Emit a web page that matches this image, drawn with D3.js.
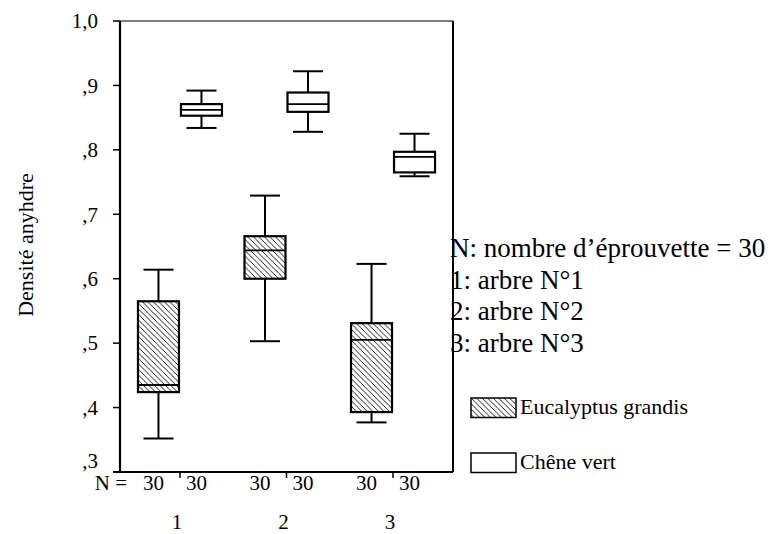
<!DOCTYPE html>
<html>
<head>
<meta charset="utf-8">
<script src="https://cdn.jsdelivr.net/npm/d3@7"></script>
<style>
  body { margin: 0; background: #fff; }
  text { font-family: "Liberation Serif", "Times New Roman", serif; fill: #000; }
</style>
</head>
<body>
<svg id="chart" width="771" height="534"></svg>
<script>
// data
const categories = ["1", "2", "3"];
const series = ["Eucalyptus grandis", "Chêne vert"];
const counts = [[30, 30], [30, 30], [30, 30]];

const eucMin = [0.352, 0.503, 0.377];
const eucQ1 = [0.424, 0.600, 0.393];
const eucMed = [0.435, 0.644, 0.505];
const eucQ3 = [0.565, 0.666, 0.531];
const eucMax = [0.614, 0.729, 0.623];

const cheneMin = [0.834, 0.828, 0.759];
const cheneQ1 = [0.853, 0.859, 0.765];
const cheneMed = [0.862, 0.871, 0.789];
const cheneQ3 = [0.871, 0.889, 0.797];
const cheneMax = [0.892, 0.922, 0.825];

const yTicks = [1.0, 0.9, 0.8, 0.7, 0.6, 0.5, 0.4, 0.3];
const yTickLabels = ["1,0", ",9", ",8", ",7", ",6", ",5", ",4", ",3"];
const notes = ["N: nombre d\u2019éprouvette = 30", "1: arbre N°1", "2: arbre N°2", "3: arbre N°3"];

const boxes = [];
categories.forEach((c, i) => {
  boxes.push({ cat: c, s: series[0], n: counts[i][0], min: eucMin[i], q1: eucQ1[i], med: eucMed[i], q3: eucQ3[i], max: eucMax[i] });
  boxes.push({ cat: c, s: series[1], n: counts[i][1], min: cheneMin[i], q1: cheneQ1[i], med: cheneMed[i], q3: cheneQ3[i], max: cheneMax[i] });
});

const svg = d3.select("#chart");
const plotL = 120, plotR = 453, plotT = 21, plotB = 472;

const y = d3.scaleLinear().domain([0.3, 1.0]).range([plotB, plotT]);
const x = d3.scaleBand().domain(categories).range([plotL, plotR]).paddingInner(0).paddingOuter(0.063);
const xs = d3.scaleBand().domain(series).range([-43, 43]);

// hatch pattern
const defs = svg.append("defs");
const pat = defs.append("pattern")
  .attr("id", "hatch")
  .attr("patternUnits", "userSpaceOnUse")
  .attr("width", 5.5)
  .attr("height", 5.5);
pat.append("rect").attr("width", 5.5).attr("height", 5.5).attr("fill", "#fff");
pat.append("path")
  .attr("d", "M0,0L5.5,5.5M-1,4.5L1,6.5M4.5,-1L6.5,1")
  .attr("stroke", "#000")
  .attr("stroke-width", 0.9);

const fillFor = (s) => (s === series[0] ? "url(#hatch)" : "#fff");

// frame
svg.append("line").attr("x1", plotL).attr("x2", plotR).attr("y1", plotT).attr("y2", plotT)
  .attr("stroke", "#000").attr("stroke-width", 1.2);
svg.append("line").attr("x1", plotR).attr("x2", plotR).attr("y1", plotT).attr("y2", plotB)
  .attr("stroke", "#000").attr("stroke-width", 2);

// y axis
const yAxis = svg.append("g").attr("transform", `translate(${plotL},0)`);
yAxis.append("line").attr("x1", 0).attr("x2", 0).attr("y1", plotT).attr("y2", plotB + 1)
  .attr("stroke", "#000").attr("stroke-width", 2.2);
yAxis.selectAll(".tk").data(yTicks).join("line")
  .attr("x1", -7).attr("x2", 0)
  .attr("y1", (d) => y(d)).attr("y2", (d) => y(d))
  .attr("stroke", "#000").attr("stroke-width", 1.5);
yAxis.selectAll(".lb").data(yTicks).join("text")
  .attr("x", -22)
  .attr("y", (d) => y(d) - (d === 0.3 ? 11 : 0))
  .attr("dy", "0.35em")
  .attr("text-anchor", "end")
  .attr("font-size", 21)
  .text((d, i) => yTickLabels[i]);

svg.append("text")
  .attr("transform", "rotate(-90)")
  .attr("x", -245)
  .attr("y", 33)
  .attr("text-anchor", "middle")
  .attr("font-size", 22)
  .text("Densité anyhdre");

// x axis
const xAxis = svg.append("g").attr("transform", `translate(0,${plotB})`);
xAxis.append("line").attr("x1", plotL - 7).attr("x2", plotR).attr("y1", 0).attr("y2", 0)
  .attr("stroke", "#000").attr("stroke-width", 2.2);
xAxis.selectAll(".tk").data(categories).join("line")
  .attr("x1", (d) => x(d) + x.bandwidth() / 2).attr("x2", (d) => x(d) + x.bandwidth() / 2)
  .attr("y1", 0).attr("y2", 6)
  .attr("stroke", "#000").attr("stroke-width", 1.5);
xAxis.selectAll(".lb").data(categories).join("text")
  .attr("x", (d) => x(d) + x.bandwidth() / 2 - 3)
  .attr("y", 57)
  .attr("text-anchor", "middle")
  .attr("font-size", 21)
  .text((d) => d);

svg.append("text").attr("x", 127).attr("y", 490).attr("text-anchor", "end")
  .attr("font-size", 21).text("N =");

const cx = (d) => x(d.cat) + x.bandwidth() / 2 + xs(d.s) + xs.bandwidth() / 2;

svg.selectAll(".nlab").data(boxes).join("text")
  .attr("x", (d) => cx(d) - 5)
  .attr("y", 490)
  .attr("text-anchor", "middle")
  .attr("font-size", 21)
  .text((d) => d.n);

// boxes
const g = svg.selectAll(".box").data(boxes).join("g").attr("class", "box");
const capW = 30;
g.append("line")
  .attr("x1", cx).attr("x2", cx)
  .attr("y1", (d) => y(d.max)).attr("y2", (d) => y(d.min))
  .attr("stroke", "#000").attr("stroke-width", 2);
g.append("line")
  .attr("x1", (d) => cx(d) - capW / 2).attr("x2", (d) => cx(d) + capW / 2)
  .attr("y1", (d) => y(d.max)).attr("y2", (d) => y(d.max))
  .attr("stroke", "#000").attr("stroke-width", 2);
g.append("line")
  .attr("x1", (d) => cx(d) - capW / 2).attr("x2", (d) => cx(d) + capW / 2)
  .attr("y1", (d) => y(d.min)).attr("y2", (d) => y(d.min))
  .attr("stroke", "#000").attr("stroke-width", 2);
g.append("rect")
  .attr("x", (d) => cx(d) - xs.bandwidth() / 2 + 1)
  .attr("width", xs.bandwidth() - 2)
  .attr("y", (d) => y(d.q3))
  .attr("height", (d) => y(d.q1) - y(d.q3))
  .attr("fill", (d) => fillFor(d.s))
  .attr("stroke", "#000").attr("stroke-width", 2.2);
g.append("line")
  .attr("x1", (d) => cx(d) - xs.bandwidth() / 2 + 1).attr("x2", (d) => cx(d) + xs.bandwidth() / 2 - 1)
  .attr("y1", (d) => y(d.med)).attr("y2", (d) => y(d.med))
  .attr("stroke", "#000").attr("stroke-width", 1.8);

// notes
svg.selectAll(".note").data(notes).join("text")
  .attr("x", 450)
  .attr("y", (d, i) => 257 + i * 31.5)
  .attr("font-size", 27)
  .text((d) => d);

// legend
const legend = svg.selectAll(".leg").data(series).join("g")
  .attr("transform", (d, i) => `translate(471,${398 + i * 55})`);
legend.append("rect")
  .attr("width", 45).attr("height", 19.5)
  .attr("fill", (d) => fillFor(d))
  .attr("stroke", "#000").attr("stroke-width", 1.5);
legend.append("text")
  .attr("x", 49).attr("y", 15.5)
  .attr("font-size", 22)
  .text((d) => d);
</script>
</body>
</html>
